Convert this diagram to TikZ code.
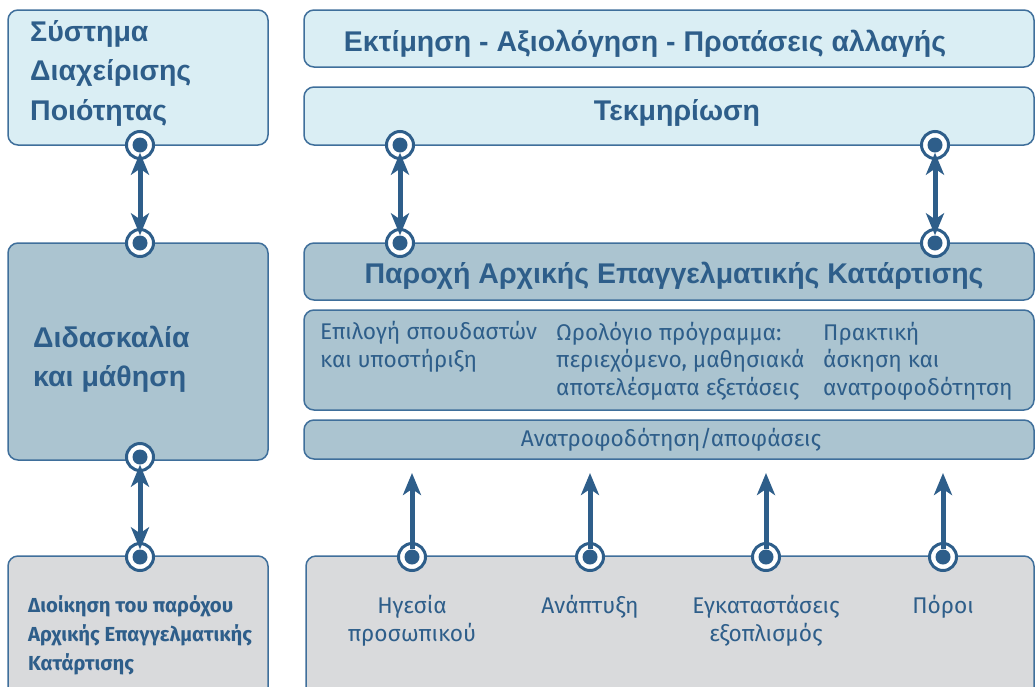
\documentclass[tikz,border=0pt]{standalone}
\usepackage{fontspec}
\setmainfont{Fira Sans}
\newfontfamily\hdfont{Liberation Sans}
\usetikzlibrary{arrows.meta}
\definecolor{dk}{HTML}{2E5E8A}
\definecolor{bd}{HTML}{3F6F9B}
\definecolor{lb}{HTML}{DAEEF4}
\definecolor{mb}{HTML}{ABC4D0}
\definecolor{gr}{HTML}{D9DADC}
\tikzset{
  box/.style={draw=bd, line width=1.5pt, rounded corners=10pt, inner sep=0pt},
  ring/.style={circle, draw=dk, line width=3pt, fill=white, minimum size=27pt, inner sep=0pt},
  dot/.style={circle, fill=dk, minimum size=15pt, inner sep=0pt},
  uplink/.style={draw=dk, line width=5pt, -{Stealth[length=22pt,width=18pt,inset=6pt]}},
  dlink/.style={draw=dk, line width=5pt, {Stealth[length=22pt,width=18pt,inset=6pt]}-{Stealth[length=22pt,width=18pt,inset=6pt]}},
  hd/.style={text=dk, inner sep=0pt, font=\hdfont\bfseries\fontsize{28.5}{30}\selectfont},
  hdl/.style={text=dk, inner sep=0pt, align=left, font=\hdfont\bfseries\fontsize{28.5}{39.5}\selectfont},
  sbold/.style={text=dk, inner sep=0pt, align=left, font=\bfseries\fontsize{20.3}{29}\selectfont},
  body/.style={text=dk, inner sep=0pt, align=left, font=\fontsize{22.7}{27.5}\selectfont},
  bodyc/.style={text=dk, inner sep=0pt, align=center, font=\fontsize{22.7}{28}\selectfont},
}
\begin{document}
\begin{tikzpicture}[x=1pt,y=-1pt]
\useasboundingbox (0,0) rectangle (1036,686);
\clip (0,0) rectangle (1036,686);
% boxes
\node[box, fill=lb, minimum width=260, minimum height=135] (sdp) at (138,77.5) {};
\node[box, fill=mb, minimum width=260, minimum height=217] (did) at (138,351.5) {};
\node[box, fill=gr, minimum width=260, minimum height=144] (dio) at (138,628) {};
\node[box, fill=lb, minimum width=730, minimum height=57] (ekt) at (669,38.5) {};
\node[box, fill=lb, minimum width=730, minimum height=58] (tek) at (669,116) {};
\node[box, fill=mb, minimum width=730, minimum height=57] (par) at (669,271.5) {};
\node[box, fill=mb, minimum width=730, minimum height=100] (cols) at (669,360) {};
\node[box, fill=mb, minimum width=730, minimum height=39] (fb) at (669,439.5) {};
\node[box, fill=gr, minimum width=728, minimum height=144] (res) at (670,628) {};
% texts
\node[hdl, anchor=west] (tsdp) at (30,73) {Σύστημα\\Διαχείρισης\\Ποιότητας};
\node[hdl, anchor=west] (tdid) at (33,359) {Διδασκαλία\\και μάθηση};
\node[sbold, anchor=west] (tdio) at (28,635) {Διοίκηση του παρόχου\\Αρχικής Επαγγελματικής\\Κατάρτισης};
\node[hd] (tekt) at (645,44) {Εκτίμηση - Αξιολόγηση - Προτάσεις αλλαγής};
\node[hd] (ttek) at (677,113) {Τεκμηρίωση};
\node[hd] (tpar) at (674,276) {Παροχή Αρχικής Επαγγελματικής Κατάρτισης};
\node[body, anchor=west] (c1) at (320,347) {Επιλογή σπουδαστών\\και υποστήριξη};
\node[body, anchor=west] (c2) at (556,361) {Ωρολόγιο πρόγραμμα:\\περιεχόμενο, μαθησιακά\\αποτελέσματα εξετάσεις};
\node[body, anchor=west] (c3) at (823,361) {Πρακτική\\άσκηση και\\ανατροφοδότητση};
\node[body] (tfb) at (671,440) {Ανατροφοδότηση/αποφάσεις};
\node[bodyc] (r1) at (412,621) {Ηγεσία\\προσωπικού};
\node[bodyc] (r2) at (590,607) {Ανάπτυξη};
\node[bodyc] (r3) at (766,621) {Εγκαταστάσεις\\εξοπλισμός};
\node[bodyc] (r4) at (943,607) {Πόροι};
% ports
\foreach \n/\x/\y in {a1/140/145, a2/140/243, b1/140/457, b2/140/557,
  c1p/400/145, c2p/400/243, d1/935/145, d2/935/243,
  e1/412/557, e2/590/557, e3/766/557, e4/943/557}{
  \node[ring] at (\x,\y) {};
  \node[dot] (\n) at (\x,\y) {};
}
\coordinate (f1) at (412,473);
\coordinate (f2) at (590,473);
\coordinate (f3) at (766,473);
\coordinate (f4) at (943,473);
% connectors
\draw[dlink] (a1) -- (a2);
\draw[dlink] (b1) -- (b2);
\draw[dlink] (c1p) -- (c2p);
\draw[dlink] (d1) -- (d2);
\draw[uplink] (e1) -- (f1);
\draw[uplink] (e2) -- (f2);
\draw[uplink] (e3) -- (f3);
\draw[uplink] (e4) -- (f4);
\end{tikzpicture}
\end{document}
